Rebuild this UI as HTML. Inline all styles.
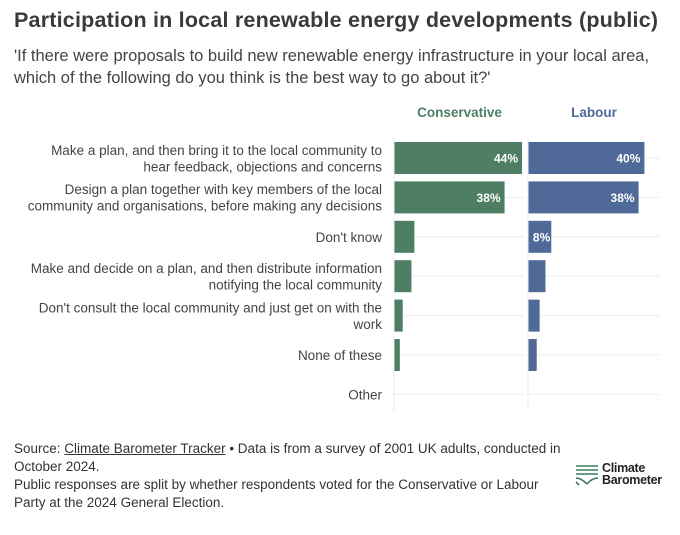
<!DOCTYPE html>
<html><head><meta charset="utf-8"><style>
body{margin:0;width:680px;height:535px;background:#fff;font-family:"Liberation Sans",sans-serif;color:#333;overflow:hidden;position:relative}
.t{position:absolute;left:14px;top:8px;font-size:21.5px;font-weight:bold;color:#3a3a3a;white-space:nowrap;letter-spacing:0.2px}
.s{position:absolute;left:14px;top:45px;font-size:16.5px;line-height:22px;color:#444;width:660px}
.f{position:absolute;left:14px;top:440px;font-size:13.5px;line-height:18px;color:#333;width:550px}
.f u{color:#333}
</style></head><body>
<div class="t">Participation in local renewable energy developments (public)</div>
<div class="s">'If there were proposals to build new renewable energy infrastructure in your local area, which of the following do you think is the best way to go about it?'</div>
<svg id="c" width="680" height="420" style="position:absolute;left:0;top:0"></svg>
<div class="f">Source: <u>Climate Barometer Tracker</u> • Data is from a survey of 2001 UK adults, conducted in October 2024.<br>Public responses are split by whether respondents voted for the Conservative or Labour Party at the 2024 General Election.</div>
<div style="position:absolute;left:575px;top:462px">
<svg width="24" height="22" style="position:absolute;left:0;top:2px"><g stroke="#3d7a5e" stroke-width="1.6" fill="none"><path d="M1 2h22M1 6h22M1 10h22M1 14q5 0 11 6M23 14q-6 0-11 6M1 18l3 3"/></g></svg>
<div style="position:absolute;left:27px;top:0;font-size:12.5px;font-weight:bold;line-height:12px;color:#222;letter-spacing:-0.3px">Climate<br>Barometer</div></div>
<script>
const categories=["Make a plan, and then bring it to the local community to|hear feedback, objections and concerns","Design a plan together with key members of the local|community and organisations, before making any decisions","Don't know","Make and decide on a plan, and then distribute information|notifying the local community","Don't consult the local community and just get on with the|work","None of these","Other"];
const conservative=[44,38,7,6,3,2,0];
const labour=[40,38,8,6,4,3,0];
const seriesNames=["Conservative","Labour"];
const svg=document.getElementById('c');const NS="http://www.w3.org/2000/svg";
function el(t,a,p){const e=document.createElementNS(NS,t);for(const k in a)e.setAttribute(k,a[k]);(p||svg).appendChild(e);return e;}
const sc=2.91;const rowY=i=>158+i*39.4;
const panels=[{x0:394,w:131,data:conservative,color:"#4e7f65",name:seriesNames[0]},{x0:528,w:132,data:labour,color:"#4f6a98",name:seriesNames[1]}];
const xs=(p,v)=>p.x0+v*sc;
categories.forEach((c,i)=>{
 const y=rowY(i);const lines=c.split('|');
 lines.forEach((l,j)=>{const t=el('text',{x:382,y:y+5+(j-(lines.length-1)/2)*16.5,'text-anchor':'end','font-size':'13.5','fill':'#444'});t.textContent=l;
 
 });
});
panels.forEach((p,pi)=>{
 const h=el('text',{x:p.x0+p.w/2,y:117,'text-anchor':'middle','font-size':'13.5','font-weight':'bold',fill:p.color});h.textContent=p.name;
 
 
 categories.forEach((c,i)=>{const y=rowY(i);
  const g=el('line',{x1:p.x0,x2:p.x0+p.w,y1:y,y2:y,stroke:'#eee','stroke-width':1});
  
  
  const v=p.data[i];
  const r=el('rect',{x:p.x0,y:y-16,width:xs(p,v)-p.x0,height:32,fill:p.color});
  
  
  if(v>=8){const t=el('text',{x:xs(p,v)-(v>=20?4:1),y:y+4.5,'text-anchor':'end','font-size':'12','font-weight':'bold',fill:'#fff'});t.textContent=v+'%';
  
  }
 });
 const a=el('line',{x1:p.x0,x2:p.x0,y1:140,y2:412,stroke:'#eee'});
 
 
});
</script>
</body></html>
